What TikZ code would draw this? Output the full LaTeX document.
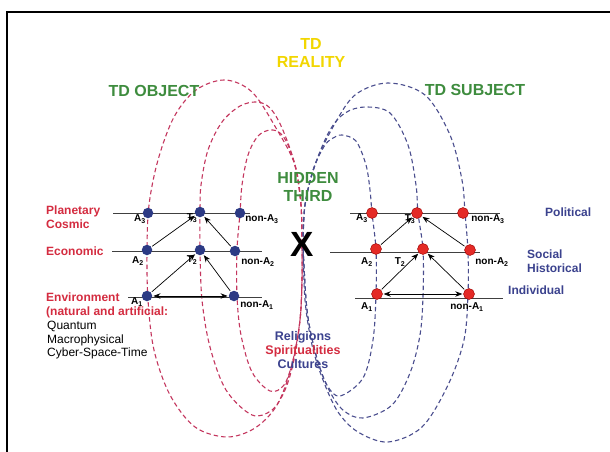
\documentclass[tikz,border=0pt]{standalone}
\usepackage{fontspec}
\setmainfont{Liberation Sans}
\usetikzlibrary{arrows.meta}
\definecolor{objred}{HTML}{C4365E}
\definecolor{subblue}{HTML}{4A4E8E}
\definecolor{navyfill}{HTML}{2C3A84}
\definecolor{redfill}{HTML}{E42A26}
\definecolor{lblred}{HTML}{D42C40}
\definecolor{lblnavy}{HTML}{3B428E}
\definecolor{tdgreen}{HTML}{3E8C3E}
\definecolor{tdyellow}{HTML}{F2D600}
\begin{document}
\begin{tikzpicture}[x=1pt,y=-1pt,
  loopL/.style={draw=objred, line width=1.1pt, dash pattern=on 4.5pt off 3pt},
  loopR/.style={draw=subblue, line width=1.1pt, dash pattern=on 4.5pt off 3pt},
  hline/.style={draw=black!75, line width=0.8pt},
  dotL/.style={circle, fill=navyfill, minimum size=10.5pt, inner sep=0pt},
  dotR/.style={circle, fill=redfill, draw=red!60!black, line width=0.4pt, minimum size=11pt, inner sep=0pt},
  arr/.style={-{Stealth[length=7pt,width=5.5pt]}, line width=0.7pt, shorten >=1pt, shorten <=1pt},
  darr/.style={{Stealth[length=7pt,width=5.5pt]}-{Stealth[length=7pt,width=5.5pt]}, line width=0.7pt, shorten >=1pt, shorten <=1pt},
  sml/.style={font=\bfseries\fontsize{10}{11}\selectfont, inner sep=0pt},
  side/.style={font=\bfseries\fontsize{12}{14}\selectfont, align=left, anchor=west, inner sep=0pt},
  big/.style={font=\bfseries\fontsize{16}{18}\selectfont, align=center, inner sep=0pt}
]
\useasboundingbox (0,0) rectangle (610,452);
\fill[white] (0,0) rectangle (610,452);
% frame
\draw[line width=2pt] (7,452) -- (7,12) -- (610,12);

% red loops (TD object)
\draw[loopL] plot[smooth, tension=0.55] coordinates {(302,244) (301,205) (295,165) (276,128) (252,92) (225,80) (196,90) (174,117) (158,160) (149,205) (147,250) (148,300) (154,350) (170,395) (195,427) (227,437) (255,428) (277,405) (292,365) (300,320) (302,280) (302,244)};
\draw[loopL] plot[smooth, tension=0.55] coordinates {(302,244) (301,205) (295,165) (282,128) (270,108) (257,102) (240,106) (222,122) (208,150) (201,185) (200,212) (200,250) (202,300) (210,347) (226,390) (252,415) (272,410) (285,390) (294,360) (300,320) (302,280) (302,244)};
\draw[loopL] plot[smooth, tension=0.55] coordinates {(302,244) (301,205) (296,170) (288,145) (280,133) (270,130) (258,136) (248,155) (242,185) (240,213) (237,250) (237,296) (241,335) (252,372) (270,391) (284,385) (293,360) (300,320) (302,280) (302,244)};

% blue loops (TD subject)
\draw[loopR] plot[smooth, tension=0.55] coordinates {(303,244) (305,205) (315,165) (333,127) (355,95) (388,83) (425,95) (450,135) (462,180) (465,213) (468,252) (468,294) (464,340) (448,385) (422,427) (388,442) (358,432) (338,412) (323,380) (312,345) (305,300) (303,244)};
\draw[loopR] plot[smooth, tension=0.55] coordinates {(303,244) (305,205) (315,165) (330,130) (345,113) (365,107) (390,113) (408,145) (416,185) (418,213) (423,250) (423,296) (420,335) (410,373) (392,405) (363,418) (343,410) (328,388) (316,355) (307,310) (303,244)};
\draw[loopR] plot[smooth, tension=0.55] coordinates {(303,244) (305,205) (313,170) (325,145) (335,137) (342,135) (356,141) (366,165) (370,190) (372,213) (376,250) (376,294) (373,340) (363,378) (340,396) (327,385) (316,355) (307,310) (303,244)};

% horizontal level lines
\coordinate (l3a) at (113,213); \coordinate (l3b) at (250,213);
\coordinate (l2a) at (112,251); \coordinate (l2b) at (262,251);
\coordinate (l1a) at (128,297); \coordinate (l1b) at (262,297);
\coordinate (r3a) at (350,213); \coordinate (r3b) at (500,213);
\coordinate (r2a) at (330,252); \coordinate (r2b) at (480,252);
\coordinate (r1a) at (355,298); \coordinate (r1b) at (503,298);
\draw[hline] (l3a) -- (l3b);
\draw[hline] (l2a) -- (l2b);
\draw[hline] (l1a) -- (l1b);
\draw[hline] (r3a) -- (r3b);
\draw[hline] (r2a) -- (r2b);
\draw[hline] (r1a) -- (r1b);

% left nodes
\node[dotL] (LA3) at (148,213) {};
\node[dotL] (LT3) at (200,212) {};
\node[dotL] (LN3) at (240,213) {};
\node[dotL] (LA2) at (147,250) {};
\node[dotL] (LT2) at (200,250) {};
\node[dotL] (LN2) at (235,251) {};
\node[dotL] (LA1) at (147,296) {};
\node[dotL] (LN1) at (234,296) {};
% right nodes
\node[dotR] (RA3) at (372,213) {};
\node[dotR] (RT3) at (417,213) {};
\node[dotR] (RN3) at (463,213) {};
\node[dotR] (RA2) at (376,249) {};
\node[dotR] (RT2) at (423,249) {};
\node[dotR] (RN2) at (470,250) {};
\node[dotR] (RA1) at (377,294) {};
\node[dotR] (RN1) at (469,294) {};

% arrows
\draw[arr] (LA2) -- (LT3);
\draw[arr] (LN2) -- (LT3);
\draw[arr] (LA1) -- (LT2);
\draw[arr] (LN1) -- (LT2);
\draw[darr] (LA1) -- (LN1);
\draw[arr] (RA2) -- (RT3);
\draw[arr] (RN2) -- (RT3);
\draw[arr] (RA1) -- (RT2);
\draw[arr] (RN1) -- (RT2);
\draw[darr] (RA1) -- (RN1);

% node labels left
\node[sml] (tLA3) at (140,219) {A\textsubscript{3}};
\node[sml] (tLT3) at (192,218) {T\textsubscript{3}};
\node[sml] (tLN3) at (262,219) {non-A\textsubscript{3}};
\node[sml] (tLA2) at (138,261) {A\textsubscript{2}};
\node[sml] (tLT2) at (192,260) {T\textsubscript{2}};
\node[sml] (tLN2) at (258,262) {non-A\textsubscript{2}};
\node[sml] (tLA1) at (137,302) {A\textsubscript{1}};
\node[sml] (tLN1) at (257,305) {non-A\textsubscript{1}};
% node labels right
\node[sml] (tRA3) at (362,218) {A\textsubscript{3}};
\node[sml] (tRT3) at (410,219) {T\textsubscript{3}};
\node[sml] (tRN3) at (488,219) {non-A\textsubscript{3}};
\node[sml] (tRA2) at (367,262) {A\textsubscript{2}};
\node[sml] (tRT2) at (400,262) {T\textsubscript{2}};
\node[sml] (tRN2) at (492,262) {non-A\textsubscript{2}};
\node[sml] (tRA1) at (367,307) {A\textsubscript{1}};
\node[sml] (tRN1) at (467,307) {non-A\textsubscript{1}};

% big titles
\node[big, text=tdyellow] (real) at (311,53) {TD\\REALITY};
\node[big, text=tdgreen] (obj) at (154,91) {TD OBJECT};
\node[big, text=tdgreen] (subj) at (475,90) {TD SUBJECT};
\node[big, text=tdgreen] (hid) at (308,187) {HIDDEN\\THIRD};
\node[font=\bfseries\fontsize{35}{35}\selectfont, inner sep=0pt] (X) at (302,244) {X};

% side labels left
\node[side, text=lblred] (plan) at (46,217) {Planetary\\Cosmic};
\node[side, text=lblred] (econ) at (46,251) {Economic};
\node[side, text=lblred, anchor=north west] (env) at (46,293) {Environment\\[0pt](natural and artificial:};
\node[anchor=north west, inner sep=0pt, align=left, font=\fontsize{12}{13.5}\selectfont] (quant) at (47,321) {Quantum\\Macrophysical\\Cyber-Space-Time};
% side labels right
\node[side, text=lblnavy] (pol) at (545,212) {Political};
\node[side, text=lblnavy] (soc) at (527,261) {Social\\Historical};
\node[side, text=lblnavy] (ind) at (508,290) {Individual};
% bottom centre
\node[font=\bfseries\fontsize{12.5}{14}\selectfont, text=lblnavy, inner sep=0pt] (rel) at (303,337) {Religions};
\node[font=\bfseries\fontsize{12.5}{14}\selectfont, text=lblred, inner sep=0pt] (spi) at (303,351) {Spiritualities};
\node[font=\bfseries\fontsize{12.5}{14}\selectfont, text=lblnavy, inner sep=0pt] (cul) at (303,364) {Cultures};
\end{tikzpicture}
\end{document}
